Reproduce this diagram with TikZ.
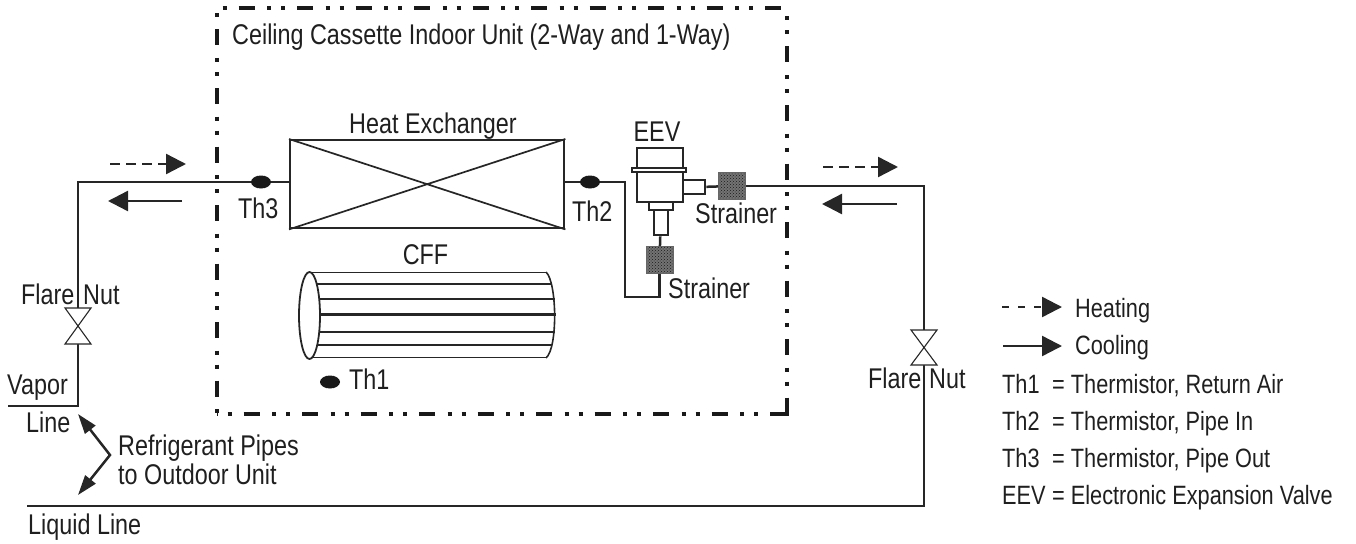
\documentclass[tikz,border=0pt]{standalone}
\usepackage{fontspec}
\setmainfont[FakeStretch=0.82]{Liberation Sans}
\usetikzlibrary{arrows.meta,patterns,shapes.geometric}
\tikzset{
 lbl/.style={inner sep=0pt,font=\fontsize{28.5}{32}\selectfont,text=black!88,anchor=base west},
 leg/.style={inner sep=0pt,font=\fontsize{26.5}{30}\selectfont,text=black!88,anchor=base west},
 pipe/.style={line width=2.5pt,black!85},
 box/.style={draw=black!85,line width=2.4pt,fill=white,inner sep=0pt,anchor=north west},
 strainer/.style={draw=black!60,line width=1pt,preaction={fill=black!55},pattern=crosshatch dots,pattern color=black!90,minimum width=27pt,minimum height=27pt,inner sep=0pt},
 therm/.style={ellipse,fill=black!90,minimum width=20pt,minimum height=13pt,inner sep=0pt},
 valve/.style={draw=black!85,line width=1.1pt,fill=white},
 arr/.style={line width=2.4pt,black!85,-{Triangle[length=20pt,width=20pt]}},
 darr/.style={arr,dash pattern=on 10pt off 6pt},
 legdarr/.style={arr,dash pattern=on 7pt off 9pt},
 boundary/.style={draw=black!90,line width=4pt,dash pattern=on 16pt off 12.5pt on 4pt off 10pt on 4pt off 12pt},
}
\begin{document}
\begin{tikzpicture}[x=1pt,y=-1pt]
\useasboundingbox (0,0) rectangle (1356,543);
% boundary
\coordinate (tl) at (216.7,8.5);
\coordinate (tr) at (787,8.5);
\coordinate (bl) at (216.7,413.5);
\coordinate (br) at (787,413.5);
\draw[boundary,dash phase=37.5pt] (tl) -- (bl);
\draw[boundary,dash phase=36.5pt] (tl) -- (783,8.5);
\draw[boundary,dash phase=20.5pt] (tr) -- (br);
\draw[boundary,dash phase=31.5pt] (bl) -- (br);
\draw[draw=black!90,line width=4pt] (771,413.5) -- (787,413.5) -- (787,398);
\node[lbl] at (232,45) {Ceiling Cassette Indoor Unit (2-Way and 1-Way)};
% heat exchanger
\node[box,minimum width=274pt,minimum height=88pt] (hx) at (289,139) {};
\draw[line width=1.7pt,black!85] (hx.north west) -- (hx.south east) (hx.south west) -- (hx.north east);
\node[lbl,anchor=base] at (433,133) {Heat Exchanger};
% thermistors
\node[therm] (t3) at (261,182) {};
\node[therm] (t2) at (590,182) {};
\node[therm] (t1) at (330,382) {};
\node[lbl] at (238,218) {Th3};
\node[lbl] at (572,221) {Th2};
\node[lbl] at (349,389) {Th1};
% pipes
\coordinate (vtop) at (78,182);
\coordinate (vbot) at (78,406);
\coordinate (vend) at (8,406);
\coordinate (lend) at (27,506);
\coordinate (lc) at (924,506);
\coordinate (rtop) at (924,186);
\draw[pipe] (t3) -- (t3 -| hx.west);
\draw[pipe] (vend) -- (vbot) -- (78,326) -- (vtop) -- (t3);
\draw[pipe] (t3 -| hx.east) -- (t2);
% EEV
\node[lbl,anchor=base] at (657,141) {EEV};
\node[box,minimum width=46pt,minimum height=54pt] (ev) at (636,147) {};
\node[draw=black!85,fill=white,line width=1.8pt,minimum width=54pt,minimum height=4pt,inner sep=0pt] (evf) at (659,170) {};
\node[box,line width=2pt,minimum width=24pt,minimum height=8pt] (ev2) at (648,201) {};
\node[box,minimum width=14pt,minimum height=25pt] (ev3) at (652.5,209) {};
\node[box,minimum width=22pt,minimum height=14pt] (ev4) at (682,179) {};
\node[strainer] (s1) at (732,186) {};
\node[strainer] (s2) at (659.5,260) {};
\node[lbl] at (695,223) {Strainer};
\node[lbl] at (668,298) {Strainer};
\draw[pipe] (t2) -- (625,182) -- (625,297) -- (659.5,297) -- (s2);
\draw[pipe] (ev3) -- (s2);
\draw[pipe] (ev4) -- (s1);
\draw[pipe] (s1) -- (rtop) -- (924,340);
\draw[pipe] (924,350) -- (lc) -- (lend);
% valves
\draw[valve] (65,308) -- (91,308) -- (65,344) -- (91,344) -- cycle;
\draw[valve] (911,330) -- (937,330) -- (911,365) -- (937,365) -- cycle;
\node[lbl] at (21,304) {Flare};
\node[lbl] at (83,304) {Nut};
\node[lbl] at (868,388) {Flare};
\node[lbl] at (929,388) {Nut};
\node[lbl] at (7,394) {Vapor};
\node[lbl] at (26,432) {Line};
\node[lbl] at (28,534) {Liquid Line};
\node[lbl] at (118,455) {Refrigerant Pipes};
\node[lbl] at (118,484) {to Outdoor Unit};
% pipe bracket
\coordinate (bk) at (110,455);
\coordinate (bka) at (78,414);
\coordinate (bkb) at (78,495);
\draw[line width=2.5pt,black!85,{Triangle[length=20pt,width=13pt]}-{Triangle[length=20pt,width=13pt]}] (bka) -- (bk) -- (bkb);
% flow arrows
\coordinate (a1) at (110,164); \coordinate (a1e) at (186,164);
\coordinate (a2) at (182,201); \coordinate (a2e) at (108,201);
\coordinate (a3) at (823,167); \coordinate (a3e) at (898,167);
\coordinate (a4) at (897,204); \coordinate (a4e) at (822,204);
\draw[darr] (a1) -- (a1e);
\draw[arr] (a2) -- (a2e);
\draw[darr] (a3) -- (a3e);
\draw[arr] (a4) -- (a4e);
% legend
\coordinate (la) at (1002,307); \coordinate (lae) at (1062,307);
\coordinate (lb) at (1003,346); \coordinate (lbe) at (1062,346);
\draw[legdarr] (la) -- (lae);
\draw[arr] (lb) -- (lbe);
\node[leg] at (1075,317) {Heating};
\node[leg] at (1075,354) {Cooling};
\node[leg] at (1002,393) {\makebox[50pt][l]{Th1}= Thermistor, Return Air};
\node[leg] at (1002,430) {\makebox[50pt][l]{Th2}= Thermistor, Pipe In};
\node[leg] at (1002,467) {\makebox[50pt][l]{Th3}= Thermistor, Pipe Out};
\node[leg] at (1002,504) {\makebox[50pt][l]{EEV}= Electronic Expansion Valve};
% CFF
\node[lbl,anchor=base] at (425.5,264) {CFF};
\foreach \y/\e/\w in {272/546/1,284/551/1.3,299/555/2,314/556/3,332/555/2.6,345/552/1.3,357/546/1}{
  \draw[line width=\w pt,black!85] (309,\y) -- (\e,\y);
}
\draw[line width=1.6pt,black!85] (546,272) .. controls (557,282) and (558,348) .. (546,358);
\draw[line width=1.8pt,black!85,fill=white] (309.5,315.5) ellipse [x radius=10.5pt,y radius=43.5pt];
\end{tikzpicture}
\end{document}
